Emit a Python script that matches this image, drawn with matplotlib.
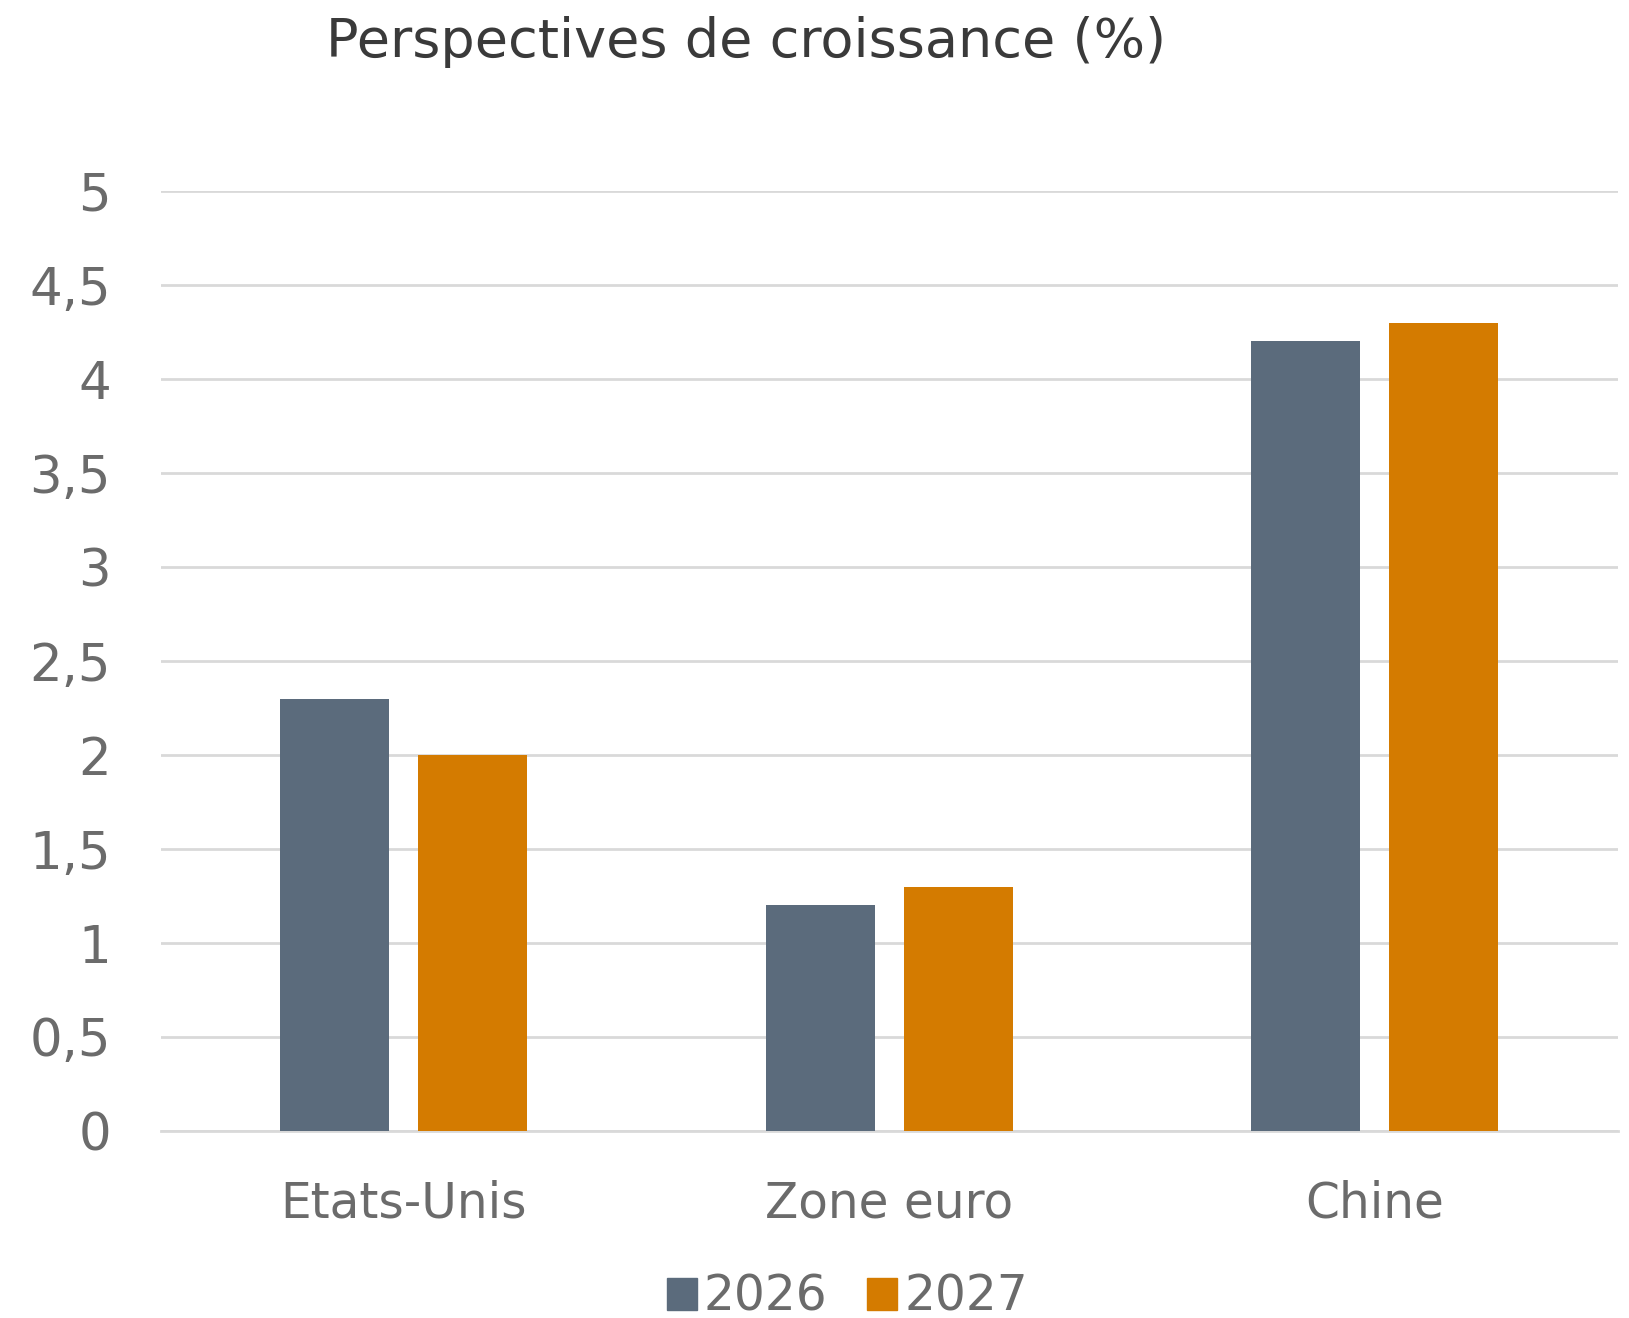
import matplotlib
matplotlib.use("Agg")
import matplotlib.pyplot as plt
from matplotlib.patches import Patch
import numpy as np

categories = ["Etats-Unis", "Zone euro", "Chine"]
years = ["2026", "2027"]
values_2026 = [2.3, 1.2, 4.2]
values_2027 = [2.0, 1.3, 4.3]
yticks = [0, 0.5, 1, 1.5, 2, 2.5, 3, 3.5, 4, 4.5, 5]
ytick_labels = ["0", "0,5", "1", "1,5", "2", "2,5", "3", "3,5", "4", "4,5", "5"]

col_2026 = "#5b6b7c"
col_2027 = "#d47b00"
txt = "#6b6b6b"

plt.rcParams['font.family'] = ['DejaVu Sans']

fig = plt.figure(figsize=(16.29, 13.18), dpi=100)
ax = fig.add_axes([0.0988, 0.1419, 0.8942, 0.7131])

x = np.arange(len(categories))
w = 0.225
ax.bar(x - 0.142, values_2026, w, color=col_2026, zorder=3)
ax.bar(x + 0.142, values_2027, w, color=col_2027, zorder=3)

ax.set_xlim(-0.5, 2.5)
ax.set_ylim(0, 5)
ax.set_yticks(yticks)
ax.set_yticklabels(ytick_labels)
ax.set_xticks(x)
ax.set_xticklabels(categories)
ax.tick_params(axis='y', length=0, labelsize=37, labelcolor=txt, pad=36)
ax.tick_params(axis='x', length=0, labelsize=35, labelcolor=txt, pad=35)
ax.grid(axis='y', color='#d9d9d9', linewidth=2, zorder=0)
for s in ['top', 'right', 'left']:
    ax.spines[s].set_visible(False)
ax.spines['bottom'].set_color('#d9d9d9')
ax.spines['bottom'].set_linewidth(2)

fig.text(0.458, 0.968, "Perspectives de croissance (%)", ha='center', va='center',
         fontsize=39, color='#3a3a3a')

handles = [Patch(color=col_2026), Patch(color=col_2027)]
fig.legend(handles, years, loc='center', bbox_to_anchor=(0.52, 0.016), ncol=2,
           frameon=False, fontsize=35, labelcolor=txt, handlelength=0.62,
           handleheight=0.62, handletextpad=0.15, columnspacing=0.8,
           borderpad=0, borderaxespad=0)

fig.savefig("out.png", dpi=100)
